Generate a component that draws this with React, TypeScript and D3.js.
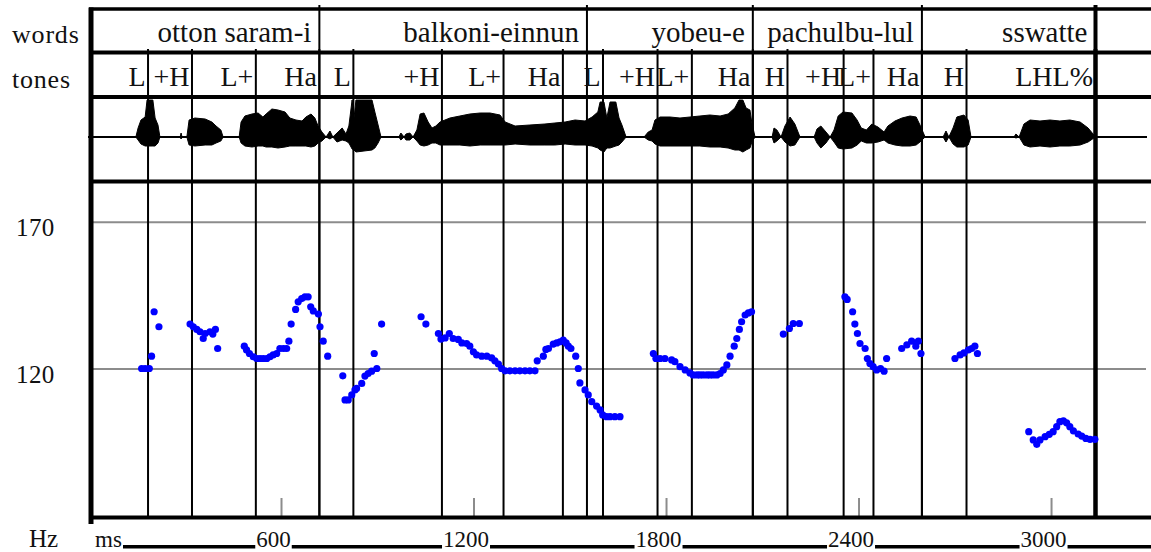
import React from 'react';
import * as d3 from 'd3';

const WIDTH = 1151;
const HEIGHT = 552;

// Word tier: label and right boundary (ms)
const WORD_LABELS = ['otton saram-i', 'balkoni-einnun', 'yobeu-e', 'pachulbu-lul', 'sswatte'];
const WORD_ENDS = [718, 1552, 2069, 2596, 3137];

// Tone tier: label and time of the tone point (ms)
const TONE_LABELS = ['L', '+H', 'L+', 'Ha', 'L', '+H', 'L+', 'Ha', 'L', '+H', 'L+', 'Ha', 'H', '+H', 'L+', 'Ha', 'H', 'LHL%'];
const TONE_TIMES = [184, 321, 520, 718, 824, 1100, 1292, 1477, 1602, 1772, 1879, 2069, 2177, 2352, 2445, 2596, 2735, 3137];

// Axis values
const HZ_GRID = [170, 120];
const TIME_TICKS = [600, 1200, 1800, 2400, 3000];
const TIME_LABELS = ['600', '1200', '1800', '2400', '3000'];

// Pitch track [ms, Hz]
const PITCH: [number, number][] = [
  [164, 120.2], [175, 120.2], [188, 120.2], [195, 124.4], [203, 139.5], [218, 134.4],
  [315, 135.3], [325, 134.4], [336, 133.5], [346, 132.7], [356, 130.4], [362, 132.1], [377, 132.7], [386, 131.9], [394, 133.5], [401, 127.0],
  [484, 127.8], [491, 126.5], [500, 125.3], [512, 124.2], [523, 123.6], [533, 123.6], [543, 123.6], [554, 123.6], [564, 124.2], [574, 124.8],
  [585, 125.3], [595, 127.0], [606, 127.0], [616, 127.0], [623, 129.5], [630, 135.3], [644, 140.3], [652, 142.9], [663, 144.0], [673, 144.6],
  [683, 144.6], [691, 141.2], [699, 139.8], [715, 138.7], [720, 134.4], [730, 129.5], [744, 124.4],
  [791, 117.7], [798, 109.5], [808, 109.5], [819, 111.2], [829, 112.9], [834, 113.4], [850, 115.1], [860, 117.6], [870, 118.5], [881, 119.3],
  [889, 125.3], [897, 120.2], [912, 135.3],
  [1035, 137.8], [1050, 135.3], [1089, 132.1], [1097, 130.2], [1110, 130.6], [1123, 132.1], [1135, 130.4], [1151, 130.1], [1162, 128.9],
  [1177, 128.7], [1187, 127.8], [1198, 125.9], [1208, 124.8], [1224, 124.4], [1240, 124.4], [1255, 123.8], [1265, 122.8], [1276, 121.7],
  [1286, 120.2], [1297, 119.4], [1312, 119.4], [1328, 119.4], [1343, 119.4], [1359, 119.4], [1374, 119.4], [1390, 119.4], [1397, 122.8],
  [1416, 124.4], [1424, 126.7], [1432, 127.0], [1447, 128.5], [1458, 128.9], [1468, 129.3], [1478, 129.9], [1487, 128.9], [1494, 127.8],
  [1502, 127.0], [1517, 124.4], [1525, 120.2], [1530, 115.3], [1546, 112.9], [1556, 111.2], [1567, 108.9], [1582, 107.4], [1593, 106.1],
  [1601, 104.4], [1613, 103.8], [1624, 103.8], [1639, 103.8], [1655, 103.8],
  [1759, 125.3], [1767, 123.6], [1780, 123.6], [1795, 123.6], [1816, 123.1], [1826, 122.5], [1842, 120.8], [1858, 119.7], [1873, 118.7],
  [1883, 118.0], [1895, 118.0], [1904, 118.0], [1914, 118.0], [1926, 118.0], [1935, 118.0], [1945, 118.0], [1957, 118.0], [1967, 118.5],
  [1977, 119.7], [1988, 121.4], [1998, 124.4], [2011, 127.8], [2019, 130.4], [2027, 133.5], [2034, 136.1], [2045, 138.4], [2055, 139.1], [2065, 139.5],
  [2164, 131.9], [2183, 133.8], [2195, 135.5], [2214, 135.5],
  [2356, 144.6], [2363, 143.7], [2380, 139.5], [2387, 135.3], [2395, 132.1], [2403, 128.7], [2419, 127.0], [2426, 123.6], [2434, 121.9],
  [2444, 120.8], [2455, 119.7], [2467, 120.2], [2478, 119.3], [2486, 123.6],
  [2533, 127.0], [2549, 128.2], [2564, 129.5], [2577, 127.8], [2585, 129.5], [2593, 125.3],
  [2699, 123.6], [2715, 124.8], [2727, 125.5], [2741, 126.5], [2751, 127.0], [2761, 127.8], [2769, 125.3],
  [2929, 98.7], [2943, 95.9], [2954, 94.4], [2964, 95.9], [2980, 97.0], [2993, 97.8], [3005, 98.7], [3016, 100.4], [3026, 102.1],
  [3037, 102.4], [3047, 101.7], [3057, 100.4], [3068, 99.0], [3083, 97.9], [3094, 97.2], [3107, 96.4], [3120, 96.1], [3135, 96.1],
];

// Waveform envelope [ms, upper amplitude, lower amplitude] (relative units, 0..100)
const WAVE: [number, number, number][] = [
  [0, 0, 0], [146, 0, 0], [153, 22.5, 7.5], [162, 42.5, 17.5], [175, 50, 22.5], [181, 92.5, 22.5], [199, 92.5, 22.5], [206, 47.5, 22.5], [215, 30, 15], [221, 0, 0],
  [284, 0, 0], [287, 10, 5], [290, 0, 0],
  [305, 0, 0], [312, 42.5, 20], [330, 47.5, 22.5], [362, 45, 20], [383, 37.5, 20], [396, 27.5, 15], [411, 17.5, 10], [418, 0, 0],
  [468, 0, 0], [474, 37.5, 15], [486, 52.5, 22.5], [508, 57.5, 25], [527, 60, 22.5], [542, 50, 22.5], [552, 57.5, 25], [570, 70, 25], [589, 67.5, 27.5],
  [611, 62.5, 25], [626, 47.5, 22.5], [645, 42.5, 22.5], [664, 40, 22.5], [676, 50, 22.5], [692, 57.5, 25], [704, 47.5, 22.5], [714, 27.5, 15], [726, 12.5, 10], [739, 0, 0],
  [751, 15, 5], [760, 0, 0], [773, 10, 12.5], [789, 22.5, 7.5], [801, 7.5, 10], [810, 27.5, 15], [820, 92.5, 30], [826, 47.5, 32.5], [832, 92.5, 37.5],
  [882, 92.5, 32.5], [891, 62.5, 27.5], [901, 30, 15], [910, 0, 0],
  [966, 0, 0], [972, 10, 7.5], [982, 0, 0], [988, 7.5, 7.5], [1000, 10, 7.5], [1010, 0, 0], [1022, 17.5, 10], [1032, 57.5, 20], [1044, 60, 22.5],
  [1057, 37.5, 20], [1069, 22.5, 15], [1081, 27.5, 15], [1094, 37.5, 20], [1125, 47.5, 20], [1156, 52.5, 20], [1187, 57.5, 22.5], [1219, 60, 20],
  [1250, 60, 20], [1281, 55, 20], [1297, 37.5, 20], [1328, 27.5, 17.5], [1374, 30, 20], [1421, 32.5, 20], [1452, 35, 20], [1484, 37.5, 17.5],
  [1515, 42.5, 20], [1546, 40, 20], [1568, 50, 22.5], [1586, 62.5, 27.5], [1593, 87.5, 32.5], [1605, 87.5, 37.5], [1614, 47.5, 27.5],
  [1624, 87.5, 27.5], [1642, 87.5, 22.5], [1652, 47.5, 20], [1661, 30, 12.5], [1674, 0, 0],
  [1730, 0, 0], [1743, 12.5, 7.5], [1755, 17.5, 10], [1764, 42.5, 17.5], [1780, 50, 22.5], [1811, 50, 22.5], [1842, 47.5, 22.5], [1873, 50, 22.5],
  [1904, 52.5, 22.5], [1935, 55, 25], [1967, 52.5, 25], [1992, 57.5, 27.5], [2013, 72.5, 32.5], [2026, 92.5, 32.5], [2038, 92.5, 37.5],
  [2048, 72.5, 32.5], [2060, 67.5, 27.5], [2066, 35, 12.5], [2076, 0, 0],
  [2129, 0, 0], [2135, 22.5, 15], [2144, 17.5, 10], [2157, 0, 0], [2169, 27.5, 12.5], [2185, 50, 22.5], [2200, 32.5, 20], [2216, 0, 0],
  [2260, 0, 0], [2269, 20, 15], [2281, 27.5, 27.5], [2297, 12.5, 15], [2310, 0, 0], [2322, 17.5, 12.5], [2335, 52.5, 27.5], [2350, 62.5, 30],
  [2378, 60, 27.5], [2394, 42.5, 20], [2407, 22.5, 10], [2423, 17.5, 15], [2440, 32.5, 15], [2459, 25, 12.5], [2478, 12.5, 7.5], [2490, 27.5, 15],
  [2512, 40, 20], [2534, 47.5, 22.5], [2559, 52.5, 22.5], [2578, 50, 20], [2590, 30, 12.5], [2606, 0, 0],
  [2662, 0, 0], [2671, 15, 12.5], [2680, 0, 0], [2693, 22.5, 17.5], [2705, 50, 25], [2727, 55, 25], [2740, 42.5, 20], [2749, 0, 0],
  [2883, 0, 0], [2889, 7.5, 2.5], [2899, 0, 0], [2914, 32.5, 20], [2933, 42.5, 25], [2964, 40, 22.5], [2995, 42.5, 25], [3026, 40, 22.5],
  [3057, 42.5, 22.5], [3089, 37.5, 20], [3114, 22.5, 12.5], [3132, 5, 2.5], [3138, 0, 0], [3297, 0, 0],
];

const SERIF = '"Liberation Serif", "Times New Roman", serif';

export default function App() {
  // layout
  const left = 89;
  const right = 1151;
  const yTop = 9;
  const yWordTone = 52.5;
  const yToneWave = 97;
  const yWavePitch = 181.5;
  const yBottom = 517.5;
  const waveMid = 137;

  const x = d3.scaleLinear().domain([0, 3310]).range([left, right]);
  const yHz = d3.scaleLinear().domain([70, 184]).range([516, 181]);
  const yAmp = d3.scaleLinear().domain([-100, 100]).range([waveMid + 40, waveMid - 40]);

  const area = d3
    .area<[number, number, number]>()
    .x((d) => x(d[0]))
    .y0((d) => yAmp(-d[2]))
    .y1((d) => yAmp(d[1]))
    .curve(d3.curveLinear);

  const axisFont = 23;
  const labelCenters = TIME_TICKS.map((t) => x(t) - 8);
  const labelWidths = TIME_LABELS.map((s) => s.length * 0.5 * axisFont);
  const msEnd = 123;
  const segStarts = [msEnd, ...labelCenters.map((c, i) => c + labelWidths[i] / 2 + 1)];
  const segEnds = [...labelCenters.map((c, i) => c - labelWidths[i] / 2 - 1), right];

  return (
    <svg
      width={WIDTH}
      height={HEIGHT}
      style={{ position: 'absolute', left: 0, top: 0, background: '#fff' }}
      fontFamily={SERIF}
    >
      <rect x={0} y={0} width={WIDTH} height={HEIGHT} fill="#fff" />

      {/* Hz grid lines */}
      {HZ_GRID.map((h) => (
        <line key={'g' + h} x1={left + 3} x2={1146} y1={yHz(h)} y2={yHz(h)} stroke="#8c8c8c" strokeWidth={2} />
      ))}

      {/* time ticks (gray) */}
      {TIME_TICKS.map((t) => (
        <line key={'t' + t} x1={x(t)} x2={x(t)} y1={498} y2={yBottom} stroke="#8c8c8c" strokeWidth={2} />
      ))}

      {/* waveform */}
      <line x1={88} x2={1147} y1={waveMid} y2={waveMid} stroke="#000" strokeWidth={2} />
      <path d={area(WAVE) || ''} fill="#000" stroke="#000" strokeWidth={1} strokeLinejoin="miter" />

      {/* tone point lines */}
      {TONE_TIMES.map((t, i) => (
        <line
          key={'tl' + i}
          x1={x(t)}
          x2={x(t)}
          y1={49}
          y2={yBottom}
          stroke="#000"
          strokeWidth={i === TONE_TIMES.length - 1 ? 4 : 2}
        />
      ))}

      {/* word boundary lines */}
      {WORD_ENDS.map((t, i) => (
        <line
          key={'wl' + i}
          x1={x(t)}
          x2={x(t)}
          y1={5}
          y2={yBottom}
          stroke="#000"
          strokeWidth={i === WORD_ENDS.length - 1 ? 4 : 2}
        />
      ))}

      {/* horizontal frame lines */}
      <line x1={left} x2={right} y1={yTop} y2={yTop} stroke="#000" strokeWidth={3.5} />
      <line x1={left} x2={right} y1={yWordTone} y2={yWordTone} stroke="#000" strokeWidth={4} />
      <line x1={left} x2={right} y1={yToneWave} y2={yToneWave} stroke="#000" strokeWidth={4} />
      <line x1={left} x2={right} y1={yWavePitch} y2={yWavePitch} stroke="#000" strokeWidth={4} />
      <line x1={left} x2={right} y1={yBottom} y2={yBottom} stroke="#000" strokeWidth={4} />
      <line x1={91} x2={91} y1={yTop - 1.5} y2={524} stroke="#000" strokeWidth={5} />

      {/* pitch points */}
      {PITCH.map((p, i) => (
        <circle key={'p' + i} cx={x(p[0])} cy={yHz(p[1])} r={3.6} fill="#0000ff" />
      ))}

      {/* word labels */}
      {WORD_LABELS.map((w, i) => (
        <text key={'w' + i} x={x(WORD_ENDS[i]) - 8} y={42} fontSize={29} textAnchor="end" fill="#111">
          {w}
        </text>
      ))}

      {/* tone labels */}
      {TONE_LABELS.map((l, i) => (
        <text key={'to' + i} x={x(TONE_TIMES[i]) - 2.5} y={86} fontSize={28} textAnchor="end" fill="#111">
          {l}
        </text>
      ))}

      {/* left labels */}
      <text x={12} y={43} fontSize={26} letterSpacing={0.8} fill="#111">words</text>
      <text x={12} y={88} fontSize={26} letterSpacing={0.8} fill="#111">tones</text>
      {HZ_GRID.map((h) => (
        <text key={'hl' + h} x={16} y={yHz(h) + 14} fontSize={25} letterSpacing={0.4} fill="#111">
          {h}
        </text>
      ))}
      <text x={29} y={547} fontSize={25} fill="#111">Hz</text>

      {/* time axis labels */}
      <text x={95} y={547} fontSize={axisFont} fill="#111">ms</text>
      {TIME_LABELS.map((s, i) => (
        <text key={'tx' + i} x={labelCenters[i]} y={547} fontSize={axisFont} textAnchor="middle" fill="#111">
          {s}
        </text>
      ))}
      {segStarts.map((s, i) => (
        <rect key={'u' + i} x={s} y={545} width={Math.max(0, segEnds[i] - s)} height={3.5} fill="#000" />
      ))}
    </svg>
  );
}
